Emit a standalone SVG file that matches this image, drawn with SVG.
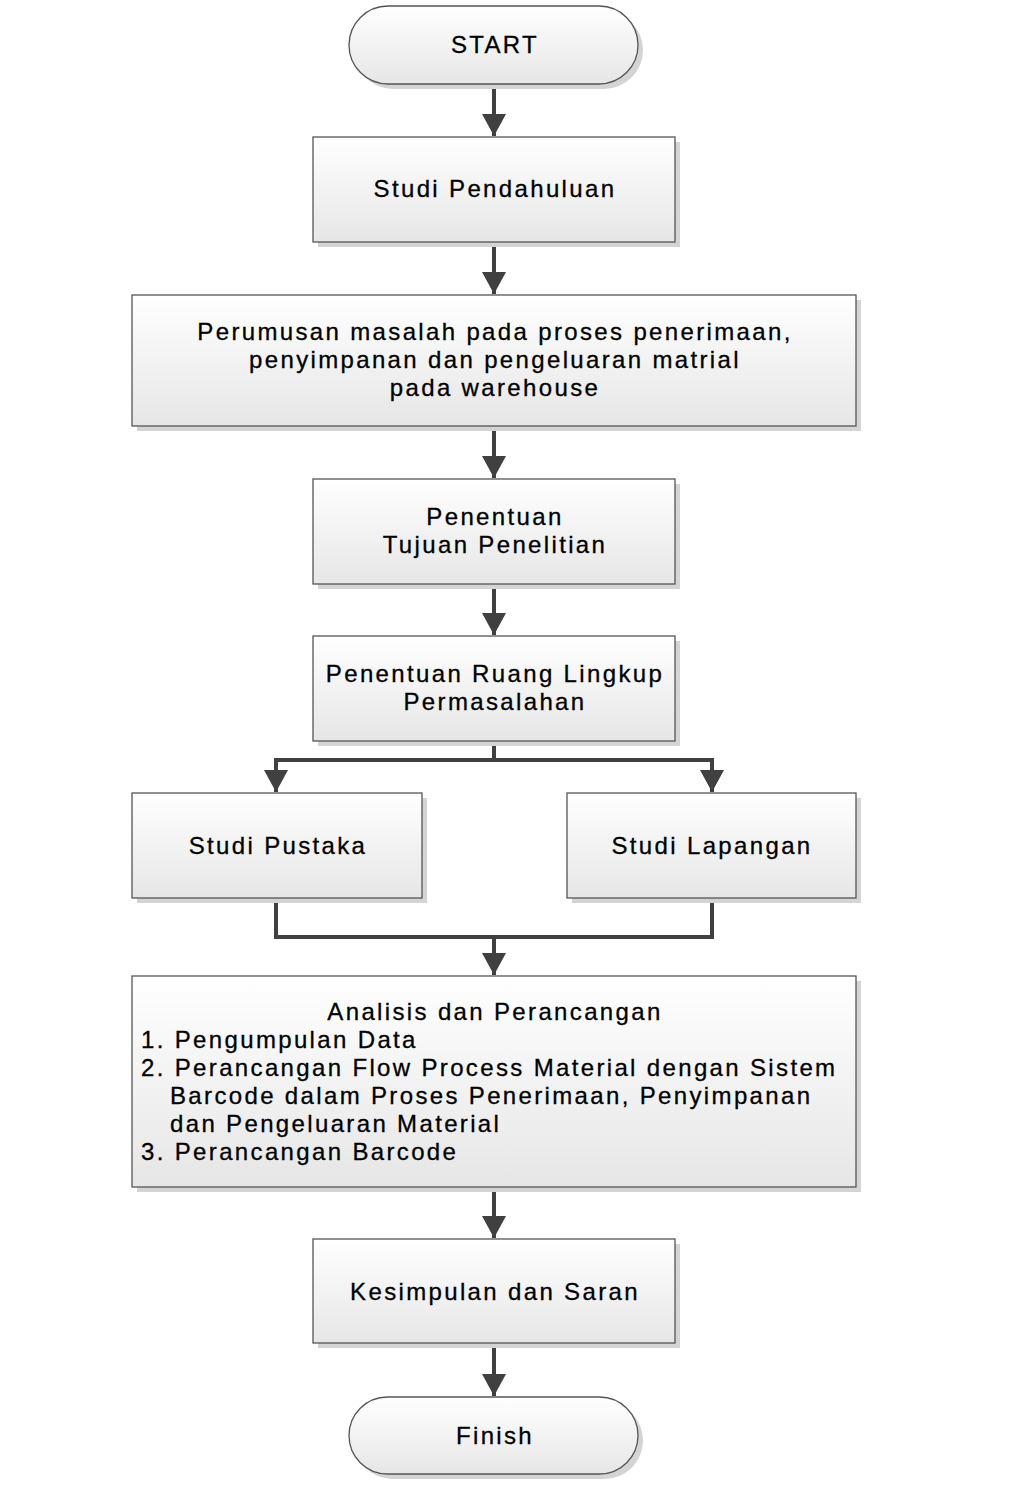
<svg xmlns="http://www.w3.org/2000/svg" width="1026" height="1509" viewBox="0 0 1026 1509">
<defs>
<linearGradient id="g" x1="0" y1="0" x2="0" y2="1">
<stop offset="0" stop-color="#ffffff"/>
<stop offset="1" stop-color="#e6e6e6"/>
</linearGradient>
<marker id="ah" markerWidth="5.5" markerHeight="6" refX="5.5" refY="3" orient="auto" markerUnits="strokeWidth">
<path d="M0,0 L5.5,3 L0,6 Z" fill="#404040"/>
</marker>
<style>
.box{fill:url(#g);stroke:#555;stroke-width:1.3}
.sh{fill:#d4d4d4}
.t{font-family:"Liberation Sans",Arial,sans-serif;font-size:24px;fill:#000;letter-spacing:2.35px;stroke:#000;stroke-width:0.3}
.c{text-anchor:middle}
.ln{fill:none;stroke:#404040;stroke-width:4}
</style>
</defs>
<rect width="1026" height="1509" fill="#fff"/>
<g id="connectors">
<path class="ln" d="M494,84 V136" marker-end="url(#ah)"/>
<path class="ln" d="M494,242 V294" marker-end="url(#ah)"/>
<path class="ln" d="M494,426 V478" marker-end="url(#ah)"/>
<path class="ln" d="M494,584 V635" marker-end="url(#ah)"/>
<path class="ln" d="M494,741 V760"/>
<path class="ln" d="M276,792 V760 H712 V792" marker-end="url(#ah)"/>
<path class="ln" d="M276,760 V792" marker-end="url(#ah)"/>
<path class="ln" d="M276,898 V937 H712 V898"/>
<path class="ln" d="M494,937 V975" marker-end="url(#ah)"/>
<path class="ln" d="M494,1187 V1238" marker-end="url(#ah)"/>
<path class="ln" d="M494,1343 V1396" marker-end="url(#ah)"/>
</g>
<g id="start">
<rect class="sh" x="354" y="11" width="289" height="78" rx="39"/>
<rect class="box" x="349" y="6" width="289" height="78" rx="39"/>
<text class="t c" x="495" y="53">START</text>
</g>
<g id="studi-pendahuluan">
<rect class="sh" x="318" y="142" width="362" height="105"/>
<rect class="box" x="313" y="137" width="362" height="105"/>
<text class="t c" x="495" y="197">Studi Pendahuluan</text>
</g>
<g id="perumusan">
<rect class="sh" x="137" y="300" width="724" height="131"/>
<rect class="box" x="132" y="295" width="724" height="131"/>
<text class="t c"><tspan x="495" y="340">Perumusan masalah pada proses penerimaan,</tspan><tspan x="495" y="368">penyimpanan dan pengeluaran matrial</tspan><tspan x="495" y="396">pada warehouse</tspan></text>
</g>
<g id="penentuan-tujuan">
<rect class="sh" x="318" y="484" width="362" height="105"/>
<rect class="box" x="313" y="479" width="362" height="105"/>
<text class="t c"><tspan x="495" y="525">Penentuan</tspan><tspan x="495" y="553">Tujuan Penelitian</tspan></text>
</g>
<g id="penentuan-ruang">
<rect class="sh" x="318" y="641" width="362" height="105"/>
<rect class="box" x="313" y="636" width="362" height="105"/>
<text class="t c"><tspan x="495" y="682">Penentuan Ruang Lingkup</tspan><tspan x="495" y="710">Permasalahan</tspan></text>
</g>
<g id="studi-pustaka">
<rect class="sh" x="137" y="798" width="290" height="105"/>
<rect class="box" x="132" y="793" width="290" height="105"/>
<text class="t c" x="278" y="854">Studi Pustaka</text>
</g>
<g id="studi-lapangan">
<rect class="sh" x="572" y="798" width="289" height="105"/>
<rect class="box" x="567" y="793" width="289" height="105"/>
<text class="t c" x="712" y="854">Studi Lapangan</text>
</g>
<g id="analisis">
<rect class="sh" x="137" y="981" width="724" height="211"/>
<rect class="box" x="132" y="976" width="724" height="211"/>
<text class="t"><tspan class="c" x="495" y="1020">Analisis dan Perancangan</tspan><tspan x="141" y="1048">1. Pengumpulan Data</tspan><tspan x="141" y="1076">2. Perancangan Flow Process Material dengan Sistem</tspan><tspan x="170" y="1104">Barcode dalam Proses Penerimaan, Penyimpanan</tspan><tspan x="170" y="1132">dan Pengeluaran Material</tspan><tspan x="141" y="1160">3. Perancangan Barcode</tspan></text>
</g>
<g id="kesimpulan">
<rect class="sh" x="318" y="1244" width="362" height="104"/>
<rect class="box" x="313" y="1239" width="362" height="104"/>
<text class="t c" x="495" y="1300">Kesimpulan dan Saran</text>
</g>
<g id="finish">
<rect class="sh" x="354" y="1402" width="289" height="77" rx="38.5"/>
<rect class="box" x="349" y="1397" width="289" height="77" rx="38.5"/>
<text class="t c" x="495" y="1444">Finish</text>
</g>
</svg>
